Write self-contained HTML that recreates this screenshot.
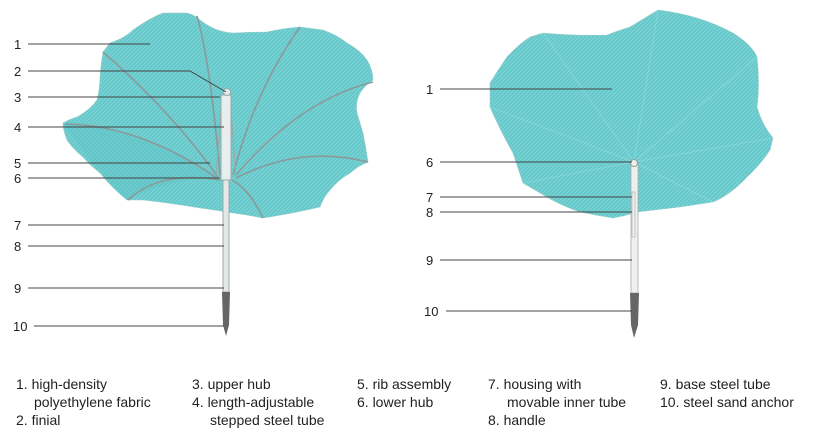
<!DOCTYPE html>
<html><head><meta charset="utf-8"><style>
body{margin:0;background:#fff;width:818px;height:442px;overflow:hidden}
svg{display:block}
text{font-family:"Liberation Sans",Arial,sans-serif;fill:#222}
.n{font-size:13px}
.lg{font-size:14px}
</style></head><body>
<svg width="818" height="442" viewBox="0 0 818 442" xmlns="http://www.w3.org/2000/svg">
<defs>
<pattern id="tx" width="4" height="4" patternUnits="userSpaceOnUse">
<rect width="4" height="4" fill="#66c9cb"/>
<path d="M0 4L4 0" stroke="#8fdadb" stroke-width="0.6"/>
</pattern>
</defs>
<!-- LEFT canopy -->
<path d="M110 43 Q125 38 133 30 Q150 18 163 13 L187 13 Q195 15 200 20 Q215 32 233 33 Q250 32 267 32 Q285 28 300 27 L323 30 Q337 35 347 43 Q360 50 367 60 Q373 70 373 80 Q365 85 360 93 Q355 103 357 113 Q360 123 363 133 Q366 148 368 162 Q358 166 350 173 Q338 180 330 190 Q323 198 320 207 Q290 214 263 218 Q248 215 233 213 Q215 210 200 208 Q170 203 143 200 L127 200 Q112 188 100 173 Q90 165 83 157 Q72 148 67 140 Q63 130 63 123 Q70 119 77 117 Q90 110 97 100 Q100 88 100 77 Q101 64 103 52 Z" fill="url(#tx)" stroke="#9cc" stroke-width="0.6"/>
<path d="M63 123 Q140 128 218 178 Q170 178 127 200 Q100 175 63 123Z" fill="#5cc0c2" opacity="0.35"/>
<g stroke="#8a9a9a" stroke-width="1.6" fill="none">
<path d="M197 16 Q210 60 220 175"/>
<path d="M300 27 Q255 90 233 175"/>
<path d="M103 52 Q170 110 218 177"/>
<path d="M65 124 Q140 125 217 178"/>
<path d="M373 82 Q300 100 236 175"/>
<path d="M368 162 Q300 145 236 178"/>
<path d="M128 200 Q160 170 220 180"/>
<path d="M263 218 Q250 190 232 180"/>
</g>
<g stroke="#9aa" stroke-width="1" fill="#e8eeee">
<rect x="221" y="95" width="10" height="85"/>
<path d="M216 178 L221 110 M236 178 L231 110" fill="none"/>
<circle cx="227" cy="92" r="3.5"/>
<rect x="223" y="180" width="6" height="112" fill="#e6e8e8"/>
</g>
<path d="M222 292 L230 292 L229 325 L226 336 L223 325 Z" fill="#666"/>
<g stroke="#444" stroke-width="1" fill="none">
<path d="M28 44 H150"/>
<path d="M28 71 H190 L226 92"/>
<path d="M28 97 H220"/>
<path d="M28 127 H224"/>
<path d="M28 163 H210"/>
<path d="M28 178 H220"/>
<path d="M28 225 H224"/>
<path d="M28 246 H224"/>
<path d="M28 288 H224"/>
<path d="M34 326 H224"/>
</g>
<g class="n">
<text x="14" y="49">1</text><text x="14" y="76">2</text><text x="14" y="102">3</text>
<text x="14" y="132">4</text><text x="14" y="168">5</text><text x="14" y="183">6</text>
<text x="14" y="230">7</text><text x="14" y="251">8</text><text x="14" y="293">9</text>
<text x="13" y="331">10</text>
</g>
<!-- RIGHT canopy -->
<path d="M658 10 Q700 15 733 33 Q752 45 757 57 Q760 85 757 107 Q762 125 773 138 L770 150 Q760 165 747 177 Q730 195 713 202 L680 207 Q655 210 637 212 Q625 216 613 218 Q595 215 580 212 Q560 205 547 197 L523 183 Q518 168 513 153 Q500 130 490 107 L490 83 Q498 70 507 57 Q518 45 530 37 L543 33 Q575 36 607 35 Q620 30 630 27 Z" fill="url(#tx)" stroke="#9cc" stroke-width="0.6"/>
<g stroke="#8fdcdc" stroke-width="0.8" fill="none" opacity="0.8">
<path d="M634 162 L543 33 M634 162 L658 10 M634 162 L757 57 M634 162 L773 138 M634 162 L490 107 M634 162 L523 183 M634 162 L713 202"/>
</g>
<rect x="631" y="163" width="7" height="130" fill="#eef0f0" stroke="#aaa" stroke-width="0.8"/>
<circle cx="634" cy="163" r="3.5" fill="#eee" stroke="#999"/>
<rect x="632" y="192" width="3" height="45" fill="none" stroke="#aaa" stroke-width="0.6"/>
<path d="M630 293 L639 293 L638 325 L634 338 L631 325 Z" fill="#666"/>
<g stroke="#444" stroke-width="1" fill="none">
<path d="M440 89 H612"/>
<path d="M440 162 H632"/>
<path d="M440 197 H632"/>
<path d="M440 212 H632"/>
<path d="M440 260 H632"/>
<path d="M446 311 H632"/>
</g>
<g class="n">
<text x="426" y="94">1</text><text x="426" y="167">6</text><text x="426" y="202">7</text>
<text x="426" y="217">8</text><text x="426" y="265">9</text><text x="424" y="316">10</text>
</g>
<!-- Legend -->
<g class="lg">
<text x="16" y="389">1. high-density</text>
<text x="34" y="407">polyethylene fabric</text>
<text x="16" y="425">2. finial</text>
<text x="192" y="389">3. upper hub</text>
<text x="192" y="407">4. length-adjustable</text>
<text x="210" y="425">stepped steel tube</text>
<text x="357" y="389">5. rib assembly</text>
<text x="357" y="407">6. lower hub</text>
<text x="488" y="389">7. housing with</text>
<text x="507" y="407">movable inner tube</text>
<text x="488" y="425">8. handle</text>
<text x="660" y="389">9. base steel tube</text>
<text x="660" y="407">10. steel sand anchor</text>
</g>
</svg>
</body></html>
